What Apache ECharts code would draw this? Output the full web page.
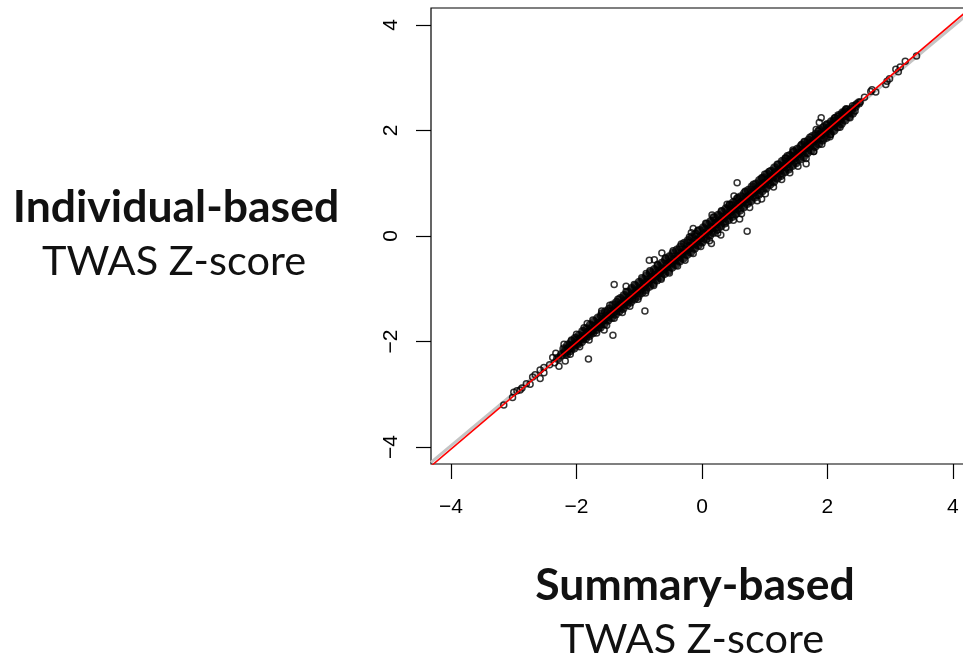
<!DOCTYPE html>
<html><head><meta charset="utf-8">
<style>html,body{margin:0;padding:0;background:#fff;overflow:hidden}#c{width:963px;height:657px}</style>
<script src="https://cdn.jsdelivr.net/npm/echarts@6/dist/echarts.min.js"></script>
</head><body><div id="c"></div>
<script>
const tickValues = [-4, -2, 0, 2, 4];
const axisRange = [-4.32, 4.32];
const redFit = [[-4.32, -4.36], [4.32, 4.36]];
const greyFit = [[-4.32, -4.29], [4.32, 4.29]];
// Clearly separated points [summary z, individual z]
const loosePoints = [
[3.42,3.41],[3.24,3.31],[3.16,3.20],[3.09,3.16],[3.13,3.11],[2.99,2.98],[2.93,2.87],[2.95,2.93],[2.71,2.77],[2.77,2.73],[2.69,2.74],
[2.59,2.63],[2.52,2.54],[2.46,2.50],[2.40,2.47],[2.30,2.40],[2.44,2.37],[2.17,2.27],[2.25,2.33],[2.10,2.19],[1.90,2.24],[1.87,2.15],[1.82,2.02],[1.63,1.79],[1.66,1.37],
[2.05,1.92],[1.78,1.60],[1.45,1.63],[1.36,1.52],[1.0,1.17],[0.56,1.01],[0.51,0.76],[0.40,0.60],[0.47,0.59],[0.72,0.09],[0.16,0.40],[-0.17,0.06],[-0.14,0.14],
[0.95,0.70],[0.60,0.32],[0.30,0.02],[0.15,-0.14],[-0.84,-0.46],[-0.76,-0.45],[-0.64,-0.32],[-0.89,-0.71],[-1.40,-0.92],[-1.21,-0.95],[-0.91,-1.42],[-1.60,-1.42],[-1.83,-1.66],
[-2.08,-1.97],[-1.42,-1.88],[-1.81,-2.33],[-1.56,-1.78],[-2.18,-2.37],[-2.33,-2.22],[-2.35,-2.40],[-2.28,-2.47],[-2.38,-2.30],[-2.43,-2.44],[-2.52,-2.49],[-2.52,-2.59],[-2.58,-2.54],[-2.58,-2.70],[-2.66,-2.63],
[-2.70,-2.67],[-2.74,-2.81],[-2.80,-2.80],[-2.87,-2.88],[-2.90,-2.92],[-2.95,-2.93],[-3.0,-2.96],[-3.02,-3.06],[-3.16,-3.20]
];
// Edge of the dense band, still visible as open circles
const bandEdgePoints = [
[-2.2,-2.05],[-2.1,-2.24],[-2.0,-1.86],[-1.95,-2.1],[-1.88,-1.74],[-1.8,-1.97],[-1.74,-1.59],[-1.68,-1.84],[-1.6,-1.46],[-1.52,-1.69],[-1.47,-1.31],[-1.4,-1.56],[-1.34,-1.2],[-1.27,-1.45],[-1.21,-1.05],[-1.15,-1.33],[-1.08,-0.92],[-1.02,-1.2],[-0.96,-0.79],[-0.9,-1.08],[-0.83,-0.66],[-0.77,-0.94],[-0.71,-0.54],[-0.65,-0.82],[-0.58,-0.41],[-0.52,-0.7],[-0.46,-0.28],[-0.39,-0.57],[-0.33,-0.15],[-0.27,-0.46],[-0.2,-0.02],[-0.14,-0.33],[-0.07,0.1],[-0.02,-0.2],[0.06,0.24],[0.12,-0.09],[0.18,0.36],[0.25,0.05],[0.31,0.48],[0.38,0.16],[0.44,0.6],[0.5,0.3],[0.57,0.73],[0.63,0.42],[0.69,0.85],[0.76,0.54],[0.82,0.98],[0.88,0.67],[0.95,1.1],[1.01,0.8],[1.07,1.22],[1.14,0.93],[1.2,1.36],[1.27,1.07],[1.33,1.48],[1.4,1.2],[1.46,1.6],[1.53,1.32],[1.59,1.74],[1.66,1.47],[1.72,1.87],[1.78,1.6],[1.85,1.99],[1.91,1.74],[1.98,2.11],[2.04,1.88],[2.12,2.24],[2.2,2.06],[2.28,2.37],[2.36,2.24]
];
// Saturated centre of the band
const coreMid = [
[-2.3,-2.32],[-2.24,-2.25],[-2.18,-2.2],[-2.12,-2.13],[-2.06,-2.07],[-2.0,-2.03],[-1.94,-1.95],[-1.88,-1.9],[-1.82,-1.83],[-1.76,-1.79],[-1.7,-1.71],[-1.64,-1.66],[-1.58,-1.6],[-1.52,-1.53],[-1.46,-1.48],[-1.4,-1.42],[-1.34,-1.35],[-1.28,-1.3],[-1.22,-1.23],[-1.16,-1.18],[-1.1,-1.11],[-1.04,-1.05],[-0.98,-1.0],[-0.92,-0.93],[-0.86,-0.87],[-0.8,-0.8],[-0.74,-0.75],[-0.68,-0.68],[-0.62,-0.63],[-0.56,-0.56],[-0.5,-0.51],[-0.44,-0.44],[-0.38,-0.39],[-0.32,-0.32],[-0.26,-0.27],[-0.2,-0.2],[-0.14,-0.15],[-0.08,-0.08],[-0.02,-0.03],[0.04,0.04],[0.1,0.1],[0.16,0.16],[0.22,0.23],[0.28,0.28],[0.34,0.35],[0.4,0.4],[0.46,0.47],[0.52,0.52],[0.58,0.59],[0.64,0.64],[0.7,0.71],[0.76,0.76],[0.82,0.83],[0.88,0.88],[0.94,0.95],[1.0,1.0],[1.06,1.07],[1.12,1.12],[1.18,1.2],[1.24,1.25],[1.3,1.32],[1.36,1.37],[1.42,1.44],[1.48,1.49],[1.54,1.56],[1.6,1.61],[1.66,1.68],[1.72,1.73],[1.78,1.8],[1.84,1.85],[1.9,1.92],[1.96,1.97],[2.02,2.04],[2.08,2.09],[2.14,2.16],[2.2,2.21],[2.26,2.28],[2.32,2.33],[2.38,2.4],[2.44,2.45],[2.5,2.52]
];
const coreUpper = [
[-2.2,-2.14],[-2.14,-2.07],[-2.08,-2.01],[-2.02,-1.94],[-1.96,-1.89],[-1.9,-1.81],[-1.84,-1.76],[-1.78,-1.69],[-1.72,-1.63],[-1.66,-1.56],[-1.6,-1.51],[-1.54,-1.44],[-1.48,-1.39],[-1.42,-1.31],[-1.36,-1.26],[-1.3,-1.19],[-1.24,-1.13],[-1.18,-1.07],[-1.12,-1.0],[-1.06,-0.95],[-1.0,-0.88],[-0.94,-0.83],[-0.88,-0.76],[-0.82,-0.7],[-0.76,-0.64],[-0.7,-0.58],[-0.64,-0.52],[-0.58,-0.45],[-0.52,-0.4],[-0.46,-0.33],[-0.4,-0.27],[-0.34,-0.21],[-0.28,-0.14],[-0.22,-0.09],[-0.16,-0.02],[-0.1,0.03],[-0.04,0.1],[0.02,0.15],[0.08,0.22],[0.14,0.27],[0.2,0.34],[0.26,0.39],[0.32,0.45],[0.38,0.51],[0.44,0.57],[0.5,0.63],[0.56,0.69],[0.62,0.74],[0.68,0.81],[0.74,0.86],[0.8,0.93],[0.86,0.98],[0.92,1.05],[0.98,1.1],[1.04,1.17],[1.1,1.22],[1.16,1.29],[1.22,1.34],[1.28,1.41],[1.34,1.46],[1.4,1.52],[1.46,1.58],[1.52,1.64],[1.58,1.7],[1.64,1.76],[1.7,1.81],[1.76,1.88],[1.82,1.93],[1.88,2.0],[1.94,2.05],[2.0,2.11],[2.06,2.16],[2.12,2.22],[2.18,2.28],[2.24,2.33],[2.3,2.39]
];
const coreLower = [
[-2.16,-2.24],[-2.1,-2.17],[-2.04,-2.12],[-1.98,-2.05],[-1.92,-2.0],[-1.86,-1.94],[-1.8,-1.89],[-1.74,-1.83],[-1.68,-1.77],[-1.62,-1.72],[-1.56,-1.66],[-1.5,-1.59],[-1.44,-1.54],[-1.38,-1.48],[-1.32,-1.42],[-1.26,-1.37],[-1.2,-1.3],[-1.14,-1.25],[-1.08,-1.19],[-1.02,-1.14],[-0.96,-1.07],[-0.9,-1.02],[-0.84,-0.95],[-0.78,-0.9],[-0.72,-0.83],[-0.66,-0.78],[-0.6,-0.71],[-0.54,-0.66],[-0.48,-0.59],[-0.42,-0.54],[-0.36,-0.47],[-0.3,-0.42],[-0.24,-0.35],[-0.18,-0.3],[-0.12,-0.23],[-0.06,-0.17],[0.0,-0.11],[0.06,-0.05],[0.12,0.01],[0.18,0.07],[0.24,0.13],[0.3,0.19],[0.36,0.25],[0.42,0.31],[0.48,0.37],[0.54,0.43],[0.6,0.49],[0.66,0.55],[0.72,0.62],[0.78,0.67],[0.84,0.74],[0.9,0.79],[0.96,0.86],[1.02,0.91],[1.08,0.98],[1.14,1.03],[1.2,1.1],[1.26,1.15],[1.32,1.22],[1.38,1.27],[1.44,1.34],[1.5,1.39],[1.56,1.46],[1.62,1.51],[1.68,1.58],[1.74,1.63],[1.8,1.7],[1.86,1.75],[1.92,1.82],[1.98,1.87],[2.04,1.94],[2.1,2.0],[2.16,2.07],[2.22,2.13],[2.28,2.2],[2.34,2.27],[2.4,2.33]
];
const tickFmt = v => String(v).replace('-', '\u2212');
const latoText = (txt, x, y, bold) => ({
  type: 'text', x, y,
  style: { text: txt, font: (bold ? 'bold 44.5px' : '41.5px') + ' Lato', fill: '#111', textAlign: 'center', textVerticalAlign: 'middle' }
});
const openPts = d => ({ type: 'scatter', data: d, symbol: 'circle', symbolSize: 6, silent: true, z: 3,
  itemStyle: { color: 'rgba(0,0,0,0)', borderColor: '#000', borderWidth: 1.5 }, animation: false });
const solidPts = d => ({ type: 'scatter', data: d, symbol: 'circle', symbolSize: 9.5, silent: true, z: 4,
  itemStyle: { color: '#000', borderWidth: 0 }, animation: false });
const fit = (d, color, width, z) => ({ type: 'line', data: d, symbol: 'none', silent: true, animation: false, z,
  lineStyle: { color, width }, clip: true });
const axisCommon = {
  type: 'value', min: axisRange[0], max: axisRange[1], splitLine: { show: false },
  axisLine: { show: false, onZero: false }
};
const chart = echarts.init(document.getElementById('c'), null, { renderer: 'canvas' });
chart.setOption({
  animation: false, backgroundColor: '#fff',
  grid: { left: 431, top: 8, width: 542, height: 456, outerBoundsMode: 'none', show: true, borderColor: '#000', borderWidth: 1.2, backgroundColor: 'transparent' },
  xAxis: Object.assign({}, axisCommon, {
    axisTick: { show: true, length: 15, lineStyle: { color: '#000', width: 1.2 }, customValues: tickValues },
    axisLabel: { fontFamily: 'Liberation Sans', fontSize: 21, color: '#000', margin: 33, formatter: tickFmt, customValues: tickValues, showMinLabel: true, showMaxLabel: true }
  }),
  yAxis: Object.assign({}, axisCommon, {
    axisTick: { show: true, length: 15, lineStyle: { color: '#000', width: 1.2 }, customValues: tickValues },
    axisLabel: { fontFamily: 'Liberation Sans', fontSize: 21, color: '#000', margin: 40, rotate: 90, formatter: tickFmt, customValues: tickValues, showMinLabel: true, showMaxLabel: true, verticalAlign: 'middle', align: 'center' }
  }),
  series: [ fit(greyFit, '#c4c4c4', 3, 2), openPts(loosePoints), openPts(bandEdgePoints), solidPts(coreUpper), solidPts(coreLower), solidPts(coreMid), fit(redFit, '#ff0000', 1.6, 6) ],
  graphic: [
    latoText('Individual-based', 176, 208, true),
    latoText('TWAS Z-score', 174, 262, false),
    latoText('Summary-based', 695, 586, true),
    latoText('TWAS Z-score', 692, 640, false)
  ]
});
</script></body></html>
